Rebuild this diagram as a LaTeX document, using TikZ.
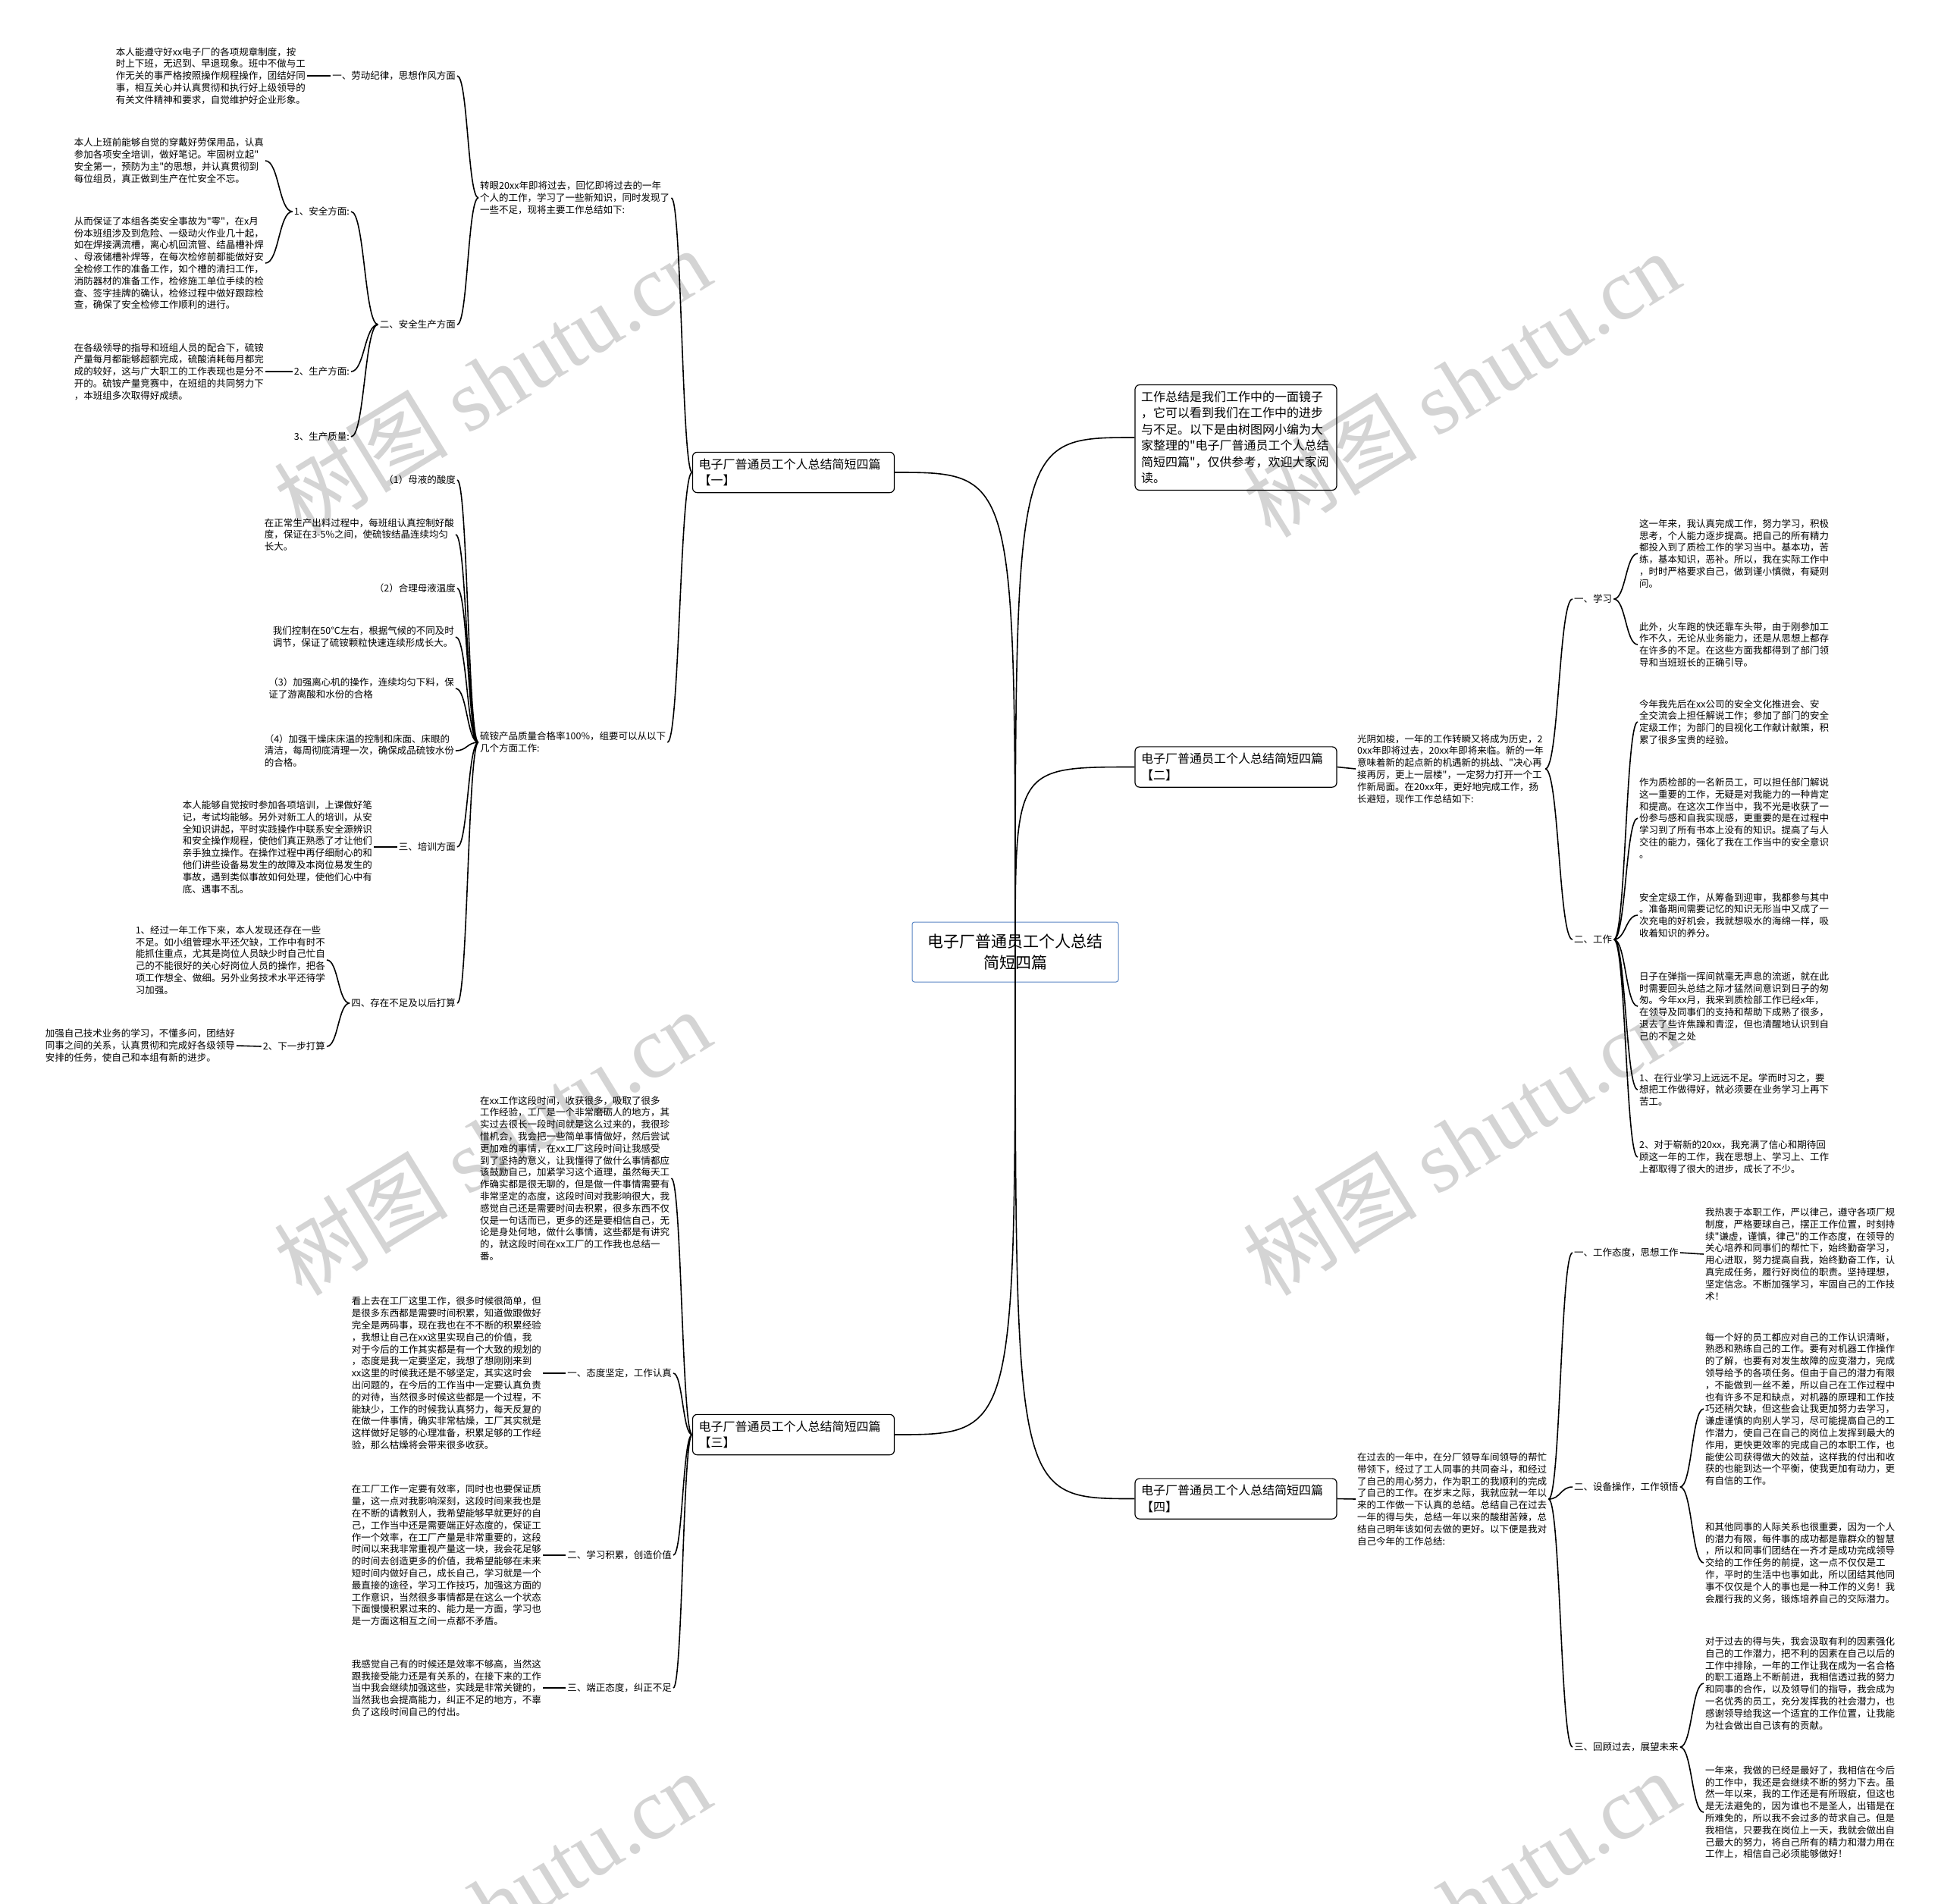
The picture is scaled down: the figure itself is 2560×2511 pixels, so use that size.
\documentclass[tikz,border=0pt]{standalone}
\usepackage{fontspec}
\setmainfont{Noto Sans CJK SC}[Ligatures=TeXOff]
\newfontfamily\wmfont{Liberation Serif}
\usetikzlibrary{calc}
\definecolor{hubblue}{HTML}{5B87C4}

\begin{document}
\begin{tikzpicture}[x=1pt, y=-1pt,
  hub/.style={draw=hubblue, rounded corners=3pt, line width=1pt, align=center,
    minimum width=272pt, minimum height=79pt, font=\fontsize{21}{28}\selectfont},
  branch/.style={draw, rounded corners=6pt, line width=1.2pt, align=left,
    text width=250pt, inner xsep=8pt, inner ysep=8.5pt,
    font=\fontsize{16}{21.4}\selectfont},
  leaf/.style={align=left, inner sep=2pt, font=\fontsize{12.5}{15.8}\selectfont},
  tag/.style={inner sep=2pt, font=\fontsize{12.5}{15.8}\selectfont},
  link/.style={line width=1.6pt},
  fork/.style={link, to path={let \p1=(\tikztostart), \p2=(\tikztotarget) in
    .. controls ({0.5*\x1+0.5*\x2}, \y1) and ({0.5*\x1+0.5*\x2}, \y2) .. (\tikztotarget)}},
  wm/.style={text=black!17, rotate=31.6, font=\fontsize{115}{115}\selectfont},
]
\fill[white] (0,0) rectangle (2560,2511);
\useasboundingbox (0,0) rectangle (2560,2511);

% watermarks
\foreach \wx/\wy in {649/502, 1927/506, 649/1506, 1927/1506, 649/2510, 1927/2510}
  \node[wm] at (\wx,\wy) {树图 {\wmfont shutu.cn}};

% centre and branches
\node[hub] (cen) at (1339,1255.5) {电子厂普通员工个人总结\\简短四篇};
\node[branch] (intro) at (1630,577) {工作总结是我们工作中的一面镜子\\，它可以看到我们在工作中的进步\\与不足。以下是由树图网小编为大\\家整理的"电子厂普通员工个人总结\\简短四篇"，仅供参考，欢迎大家阅\\读。};
\node[branch] (b1) at (1046.5,623) {电子厂普通员工个人总结简短四篇\\【一】};
\node[branch] (b2) at (1630,1011.5) {电子厂普通员工个人总结简短四篇\\【二】};
\node[branch] (b3) at (1046.5,1892) {电子厂普通员工个人总结简短四篇\\【三】};
\node[branch] (b4) at (1630,1976.5) {电子厂普通员工个人总结简短四篇\\【四】};

% branch one
\node[leaf, anchor=west] (t1) at (631,261) {转眼20xx年即将过去，回忆即将过去的一年\\个人的工作，学习了一些新知识，同时发现了\\一些不足，现将主要工作总结如下:};
\node[tag, anchor=east] (a1) at (603,100) {一、劳动纪律，思想作风方面};
\node[leaf, anchor=east] (p1) at (405,100) {本人能遵守好xx电子厂的各项规章制度，按\\时上下班，无迟到、早退现象。班中不做与工\\作无关的事严格按照操作规程操作，团结好同\\事，相互关心并认真贯彻和执行好上级领导的\\有关文件精神和要求，自觉维护好企业形象。};
\node[tag, anchor=east] (a2) at (603,428) {二、安全生产方面};
\node[tag, anchor=east] (s1) at (463,279) {1、安全方面:};
\node[tag, anchor=east] (s2) at (463,490) {2、生产方面:};
\node[tag, anchor=east] (s3) at (463,576) {3、生产质量:};
\node[leaf, anchor=east] (p2) at (350,212) {本人上班前能够自觉的穿戴好劳保用品，认真\\参加各项安全培训，做好笔记。牢固树立起"\\安全第一，预防为主"的思想，并认真贯彻到\\每位组员，真正做到生产在忙安全不忘。};
\node[leaf, anchor=east] (p3) at (350,347) {从而保证了本组各类安全事故为"零"，在x月\\份本班组涉及到危险、一级动火作业几十起，\\如在焊接满流槽，离心机回流管、结晶槽补焊\\、母液储槽补焊等，在每次检修前都能做好安\\全检修工作的准备工作，如个槽的清扫工作，\\消防器材的准备工作，检修施工单位手续的检\\查、签字挂牌的确认，检修过程中做好跟踪检\\查，确保了安全检修工作顺利的进行。};
\node[leaf, anchor=east] (p4) at (350,490) {在各级领导的指导和班组人员的配合下，硫铵\\产量每月都能够超额完成，硫酸消耗每月都完\\成的较好，这与广大职工的工作表现也是分不\\开的。硫铵产量竞赛中，在班组的共同努力下\\，本班组多次取得好成绩。};
\node[leaf, anchor=west] (ts) at (631,979) {硫铵产品质量合格率100\%，组要可以从以下\\几个方面工作:};
\node[tag, anchor=east] (q1) at (603,633) {（1）母液的酸度};
\node[leaf, anchor=east] (p5) at (601,705) {在正常生产出料过程中，每班组认真控制好酸\\度，保证在3-5\%之间，使硫铵结晶连续均匀\\长大。};
\node[tag, anchor=east] (q2) at (603,776) {（2）合理母液温度};
\node[leaf, anchor=east] (p6) at (601,840) {我们控制在50℃左右，根据气候的不同及时\\调节，保证了硫铵颗粒快速连续形成长大。};
\node[leaf, anchor=east] (p7) at (601,908) {（3）加强离心机的操作，连续均匀下料，保\\证了游离酸和水份的合格};
\node[leaf, anchor=east] (p8) at (601,990) {（4）加强干燥床床温的控制和床面、床眼的\\清洁，每周彻底清理一次，确保成品硫铵水份\\的合格。};
\node[tag, anchor=east] (a3) at (603,1117) {三、培训方面};
\node[leaf, anchor=east] (p9) at (493,1117) {本人能够自觉按时参加各项培训，上课做好笔\\记，考试均能够。另外对新工人的培训，从安\\全知识讲起，平时实践操作中联系安全源辨识\\和安全操作规程，使他们真正熟悉了才让他们\\亲手独立操作。在操作过程中再仔细耐心的和\\他们讲些设备易发生的故障及本岗位易发生的\\事故，遇到类似事故如何处理，使他们心中有\\底、遇事不乱。};
\node[tag, anchor=east] (a4) at (603,1323) {四、存在不足及以后打算};
\node[leaf, anchor=east] (p10) at (431,1266) {1、经过一年工作下来，本人发现还存在一些\\不足。如小组管理水平还欠缺，工作中有时不\\能抓住重点，尤其是岗位人员缺少时自己忙自\\己的不能很好的关心好岗位人员的操作，把各\\项工作想全、做细。另外业务技术水平还待学\\习加强。};
\node[tag, anchor=east] (n2) at (431,1380) {2、下一步打算};
\node[leaf, anchor=east] (p11) at (312,1379) {加强自己技术业务的学习，不懂多问，团结好\\同事之间的关系，认真贯彻和完成好各级领导\\安排的任务，使自己和本组有新的进步。};

% branch three
\node[leaf, anchor=west] (t3) at (631,1554) {在xx工作这段时间，收获很多，吸取了很多\\工作经验，工厂是一个非常磨砺人的地方，其\\实过去很长一段时间就是这么过来的，我很珍\\惜机会，我会把一些简单事情做好，然后尝试\\更加难的事情，在xx工厂这段时间让我感受\\到了坚持的意义，让我懂得了做什么事情都应\\该鼓励自己，加紧学习这个道理，虽然每天工\\作确实都是很无聊的，但是做一件事情需要有\\非常坚定的态度，这段时间对我影响很大，我\\感觉自己还是需要时间去积累，很多东西不仅\\仅是一句话而已，更多的还是要相信自己，无\\论是身处何地，做什么事情，这些都是有讲究\\的，就这段时间在xx工厂的工作我也总结一\\番。};
\node[tag, anchor=east] (c1) at (888,1811) {一、态度坚定，工作认真};
\node[leaf, anchor=east] (p12) at (716,1811) {看上去在工厂这里工作，很多时候很简单，但\\是很多东西都是需要时间积累，知道做跟做好\\完全是两码事，现在我也在不不断的积累经验\\，我想让自己在xx这里实现自己的价值，我\\对于今后的工作其实都是有一个大致的规划的\\，态度是我一定要坚定，我想了想刚刚来到\\xx这里的时候我还是不够坚定，其实这时会\\出问题的，在今后的工作当中一定要认真负责\\的对待，当然很多时候这些都是一个过程，不\\能缺少，工作的时候我认真努力，每天反复的\\在做一件事情，确实非常枯燥，工厂其实就是\\这样做好足够的心理准备，积累足够的工作经\\验，那么枯燥将会带来很多收获。};
\node[tag, anchor=east] (c2) at (888,2051) {二、学习积累，创造价值};
\node[leaf, anchor=east] (p13) at (716,2051) {在工厂工作一定要有效率，同时也也要保证质\\量，这一点对我影响深刻，这段时间来我也是\\在不断的请教别人，我希望能够早就更好的自\\己，工作当中还是需要端正好态度的，保证工\\作一个效率，在工厂产量是非常重要的，这段\\时间以来我非常重视产量这一块，我会花足够\\的时间去创造更多的价值，我希望能够在未来\\短时间内做好自己，成长自己，学习就是一个\\最直接的途径，学习工作技巧，加强这方面的\\工作意识，当然很多事情都是在这么一个状态\\下面慢慢积累过来的、能力是一方面，学习也\\是一方面这相互之间一点都不矛盾。};
\node[tag, anchor=east] (c3) at (888,2226) {三、端正态度，纠正不足};
\node[leaf, anchor=east] (p14) at (716,2226) {我感觉自己有的时候还是效率不够高，当然这\\跟我接受能力还是有关系的，在接下来的工作\\当中我会继续加强这些，实践是非常关键的，\\当然我也会提高能力，纠正不足的地方，不辜\\负了这段时间自己的付出。};

% branch two
\node[leaf, anchor=west] (t2) at (1788,1014) {光阴如梭，一年的工作转瞬又将成为历史，2\\0xx年即将过去，20xx年即将来临。新的一年\\意味着新的起点新的机遇新的挑战、"决心再\\接再厉，更上一层楼"，一定努力打开一个工\\作新局面。在20xx年，更好地完成工作，扬\\长避短，现作工作总结如下:};
\node[tag, anchor=west] (d1) at (2074,790) {一、学习};
\node[leaf, anchor=west] (ra) at (2160,730) {这一年来，我认真完成工作，努力学习，积极\\思考，个人能力逐步提高。把自己的所有精力\\都投入到了质检工作的学习当中。基本功，苦\\练，基本知识，恶补。所以，我在实际工作中\\，时时严格要求自己，做到谨小慎微，有疑则\\问。};
\node[leaf, anchor=west] (rb) at (2160,850) {此外，火车跑的快还靠车头带，由于刚参加工\\作不久，无论从业务能力，还是从思想上都存\\在许多的不足。在这些方面我都得到了部门领\\导和当班班长的正确引导。};
\node[tag, anchor=west] (d2) at (2074,1239) {二、工作};
\node[leaf, anchor=west] (w1) at (2160,952) {今年我先后在xx公司的安全文化推进会、安\\全交流会上担任解说工作；参加了部门的安全\\定级工作；为部门的目视化工作献计献策，积\\累了很多宝贵的经验。};
\node[leaf, anchor=west] (w2) at (2160,1079) {作为质检部的一名新员工，可以担任部门解说\\这一重要的工作，无疑是对我能力的一种肯定\\和提高。在这次工作当中，我不光是收获了一\\份参与感和自我实现感，更重要的是在过程中\\学习到了所有书本上没有的知识。提高了与人\\交往的能力，强化了我在工作当中的安全意识\\。};
\node[leaf, anchor=west] (w3) at (2160,1207) {安全定级工作，从筹备到迎审，我都参与其中\\。准备期间需要记忆的知识无形当中又成了一\\次充电的好机会，我就想吸水的海绵一样，吸\\收着知识的养分。};
\node[leaf, anchor=west] (w4) at (2160,1327) {日子在弹指一挥间就毫无声息的流逝，就在此\\时需要回头总结之际才猛然间意识到日子的匆\\匆。今年xx月，我来到质检部工作已经x年，\\在领导及同事们的支持和帮助下成熟了很多，\\退去了些许焦躁和青涩，但也清醒地认识到自\\己的不足之处};
\node[leaf, anchor=west] (w5) at (2160,1437) {1、在行业学习上远远不足。学而时习之，要\\想把工作做得好，就必须要在业务学习上再下\\苦工。};
\node[leaf, anchor=west] (w6) at (2160,1526) {2、对于崭新的20xx，我充满了信心和期待回\\顾这一年的工作，我在思想上、学习上、工作\\上都取得了很大的进步，成长了不少。};

% branch four
\node[leaf, anchor=west] (t4) at (1788,1977) {在过去的一年中，在分厂领导车间领导的帮忙\\带领下，经过了工人同事的共同奋斗，和经过\\了自己的用心努力，作为职工的我顺利的完成\\了自己的工作。在岁末之际，我就应就一年以\\来的工作做一下认真的总结。总结自己在过去\\一年的得与失，总结一年以来的酸甜苦辣，总\\结自己明年该如何去做的更好。以下便是我对\\自己今年的工作总结:};
\node[tag, anchor=west] (e1) at (2074,1652) {一、工作态度，思想工作};
\node[leaf, anchor=west] (f1) at (2247,1654) {我热衷于本职工作，严以律己，遵守各项厂规\\制度，严格要球自己，摆正工作位置，时刻持\\续"谦虚，谨慎，律己"的工作态度，在领导的\\关心培养和同事们的帮忙下，始终勤奋学习，\\用心进取，努力提高自我，始终勤奋工作，认\\真完成任务，履行好岗位的职责。坚持理想，\\坚定信念。不断加强学习，牢固自己的工作技\\术！};
\node[tag, anchor=west] (e2) at (2074,1961) {二、设备操作，工作领悟};
\node[leaf, anchor=west] (f2) at (2247,1858) {每一个好的员工都应对自己的工作认识清晰，\\熟悉和熟练自己的工作。要有对机器工作操作\\的了解，也要有对发生故障的应变潜力，完成\\领导给予的各项任务。但由于自己的潜力有限\\，不能做到一丝不差，所以自己在工作过程中\\也有许多不足和缺点，对机器的原理和工作技\\巧还稍欠缺，但这些会让我更加努力去学习，\\谦虚谨慎的向别人学习，尽可能提高自己的工\\作潜力，使自己在自己的岗位上发挥到最大的\\作用，更快更效率的完成自己的本职工作，也\\能使公司获得做大的效益，这样我的付出和收\\获的也能到达一个平衡，使我更加有动力，更\\有自信的工作。};
\node[leaf, anchor=west] (f3) at (2247,2061) {和其他同事的人际关系也很重要，因为一个人\\的潜力有限，每件事的成功都是靠群众的智慧\\，所以和同事们团结在一齐才是成功完成领导\\交给的工作任务的前提，这一点不仅仅是工\\作，平时的生活中也事如此，所以团结其他同\\事不仅仅是个人的事也是一种工作的义务！我\\会履行我的义务，锻炼培养自己的交际潜力。};
\node[tag, anchor=west] (e3) at (2074,2304) {三、回顾过去，展望未来};
\node[leaf, anchor=west] (f4) at (2247,2220) {对于过去的得与失，我会汲取有利的因素强化\\自己的工作潜力，把不利的因素在自己以后的\\工作中排除，一年的工作让我在成为一名合格\\的职工道路上不断前进，我相信透过我的努力\\和同事的合作，以及领导们的指导，我会成为\\一名优秀的员工，充分发挥我的社会潜力，也\\感谢领导给我这一个适宜的工作位置，让我能\\为社会做出自己该有的贡献。};
\node[leaf, anchor=west] (f5) at (2247,2390) {一年来，我做的已经是最好了，我相信在今后\\的工作中，我还是会继续不断的努力下去。虽\\然一年以来，我的工作还是有所瑕疵，但这也\\是无法避免的，因为谁也不是圣人，出错是在\\所难免的，所以我不会过多的苛求自己。但是\\我相信，只要我在岗位上一天，我就会做出自\\己最大的努力，将自己所有的精力和潜力用在\\工作上，相信自己必须能够做好！};

% centre links
\draw[link] (cen.center) .. controls (cen.center |- intro.west) .. (intro.west);
\draw[link] (cen.center) .. controls (cen.center |- b2.west) .. (b2.west);
\draw[link] (cen.center) .. controls (cen.center |- b4.west) .. (b4.west);
\draw[link] (cen.center) .. controls (cen.center |- b1.east) .. (b1.east);
\draw[link] (cen.center) .. controls (cen.center |- b3.east) .. (b3.east);

% left side forks
\draw[fork] (b1.west) to (t1.east) (b1.west) to (ts.east);
\draw[fork] (t1.west) to (a1.east) (t1.west) to (a2.east);
\draw[link] (a1.west) -- (p1.east);
\draw[fork] (a2.west) to (s1.east) (a2.west) to (s2.east) (a2.west) to (s3.east);
\draw[fork] (s1.west) to (p2.east) (s1.west) to (p3.east);
\draw[link] (s2.west) -- (p4.east);
\draw[fork] (ts.west) to (q1.east) (ts.west) to (p5.east) (ts.west) to (q2.east)
  (ts.west) to (p6.east) (ts.west) to (p7.east) (ts.west) to (p8.east)
  (ts.west) to (a3.east) (ts.west) to (a4.east);
\draw[link] (a3.west) -- (p9.east);
\draw[fork] (a4.west) to (p10.east) (a4.west) to (n2.east);
\draw[link] (n2.west) -- (p11.east);
\draw[fork] (b3.west) to (t3.east) (b3.west) to (c1.east) (b3.west) to (c2.east)
  (b3.west) to (c3.east);
\draw[link] (c1.west) -- (p12.east);
\draw[link] (c2.west) -- (p13.east);
\draw[link] (c3.west) -- (p14.east);

% right side forks
\draw[link] (b2.east) -- (t2.west);
\draw[fork] (t2.east) to (d1.west) (t2.east) to (d2.west);
\draw[fork] (d1.east) to (ra.west) (d1.east) to (rb.west);
\draw[fork] (d2.east) to (w1.west) (d2.east) to (w2.west) (d2.east) to (w3.west)
  (d2.east) to (w4.west) (d2.east) to (w5.west) (d2.east) to (w6.west);
\draw[link] (b4.east) -- (t4.west);
\draw[fork] (t4.east) to (e1.west) (t4.east) to (e2.west) (t4.east) to (e3.west);
\draw[link] (e1.east) -- (f1.west);
\draw[fork] (e2.east) to (f2.west) (e2.east) to (f3.west);
\draw[fork] (e3.east) to (f4.west) (e3.east) to (f5.west);
\end{tikzpicture}
\end{document}
